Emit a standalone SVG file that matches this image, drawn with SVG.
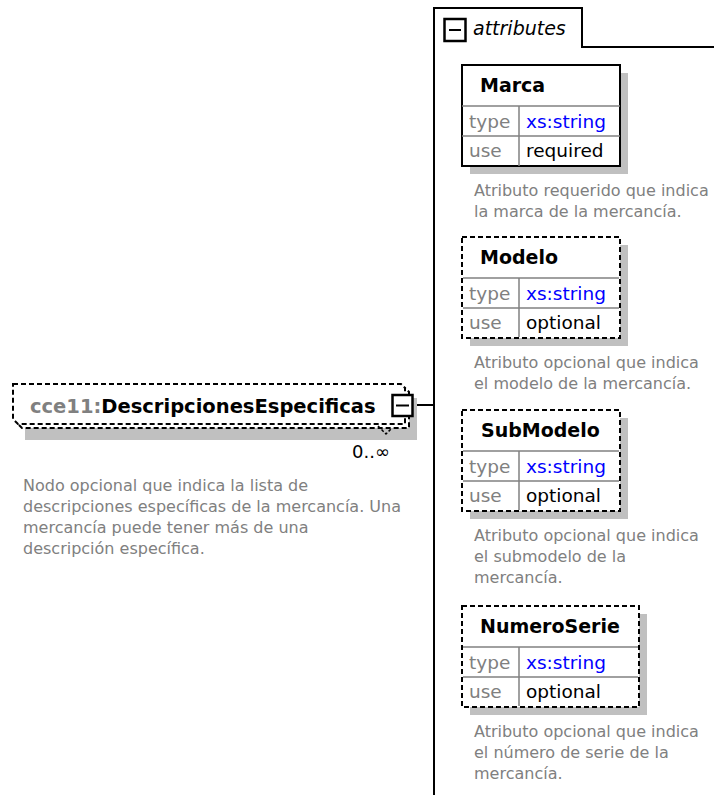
<svg xmlns="http://www.w3.org/2000/svg" width="714" height="795" viewBox="0 0 714 795">
<style>
  text { font-family: "DejaVu Sans", Verdana, sans-serif; }
  .bg { fill: #ffffff; }
  .shadow { fill: #c0c0c0; stroke: none; }
  .box { fill: #ffffff; stroke: #000; stroke-width: 2; }
  .dash { fill: #ffffff; stroke: #000; stroke-width: 2; stroke-dasharray: 5 3; }
  .grid { stroke: #808080; stroke-width: 1.5; fill: none; }
  .line { stroke: #000; stroke-width: 2; fill: none; }
  .title { font-size: 19px; font-weight: bold; fill: #000; }
  .lbl { font-size: 18.5px; fill: #808080; }
  .val { font-size: 18.5px; fill: #000; }
  .type { font-size: 18.5px; fill: #0000ff; }
  .desc { font-size: 16px; fill: #808080; }
  .btn { fill: #ffffff; stroke: #000; stroke-width: 2.5; }
</style>
<rect class="bg" x="0" y="0" width="714" height="795"/>

<g id="connectors">
  <line class="line" x1="413" y1="405" x2="434" y2="405"/>
</g>

<g id="attributes">
  <path class="line" d="M434,795 V8 H582 V47 H714"/>
  <rect class="btn" x="444.5" y="19" width="21" height="22"/>
  <line x1="449" y1="30" x2="461" y2="30" stroke="#000" stroke-width="2"/>
  <text x="473" y="35" font-size="19" font-style="italic" fill="#000">attributes</text>
</g>

<g id="DescripcionesEspecificas">
  <rect class="shadow" x="25" y="398" width="392" height="42"/>
  <polygon class="dash" points="17,388 405,388 409,392 409,428 22,428 17,423"/>
  <polygon class="dash" points="13,384 401,384 405,388 405,424 18,424 13,419"/>
  <polyline points="378,426 386,434 392,428" fill="none" stroke="#000" stroke-width="1.5" stroke-dasharray="3 2"/>
  <text x="30" y="413" font-size="19.5" font-weight="bold"><tspan fill="#808080">cce11:</tspan><tspan fill="#000">DescripcionesEspecificas</tspan></text>
  <rect class="btn" x="392.5" y="395" width="20" height="21"/>
  <line x1="396" y1="405.5" x2="409" y2="405.5" stroke="#000" stroke-width="2"/>
  <text x="352" y="458" font-size="18" fill="#000">0..∞</text>
  <text class="desc" x="23" y="491">Nodo opcional que indica la lista de</text>
  <text class="desc" x="23" y="512">descripciones específicas de la mercancía. Una</text>
  <text class="desc" x="23" y="533">mercancía puede tener más de una</text>
  <text class="desc" x="23" y="554">descripción específica.</text>
</g>

<g id="Marca">
  <rect class="shadow" x="470" y="73" width="158" height="101"/>
  <rect class="box" x="462" y="65" width="158" height="101"/>
  <line class="grid" x1="462" y1="106" x2="620" y2="106"/>
  <line class="grid" x1="462" y1="136" x2="620" y2="136"/>
  <line class="grid" x1="519" y1="106" x2="519" y2="166"/>
  <text class="title" x="480" y="92">Marca</text>
  <text class="lbl" x="469" y="128">type</text>
  <text class="type" x="526" y="128">xs:string</text>
  <text class="lbl" x="469" y="157">use</text>
  <text class="val" x="526" y="157">required</text>
  <text class="desc" x="474" y="196">Atributo requerido que indica</text>
  <text class="desc" x="474" y="217">la marca de la mercancía.</text>
</g>

<g id="Modelo">
  <rect class="shadow" x="470" y="245" width="158" height="101"/>
  <rect class="dash" x="462" y="237" width="158" height="101"/>
  <line class="grid" x1="463" y1="278" x2="619" y2="278"/>
  <line class="grid" x1="463" y1="308" x2="619" y2="308"/>
  <line class="grid" x1="519" y1="278" x2="519" y2="337"/>
  <text class="title" x="480" y="264">Modelo</text>
  <text class="lbl" x="469" y="300">type</text>
  <text class="type" x="526" y="300">xs:string</text>
  <text class="lbl" x="469" y="329">use</text>
  <text class="val" x="526" y="329">optional</text>
  <text class="desc" x="474" y="368">Atributo opcional que indica</text>
  <text class="desc" x="474" y="389">el modelo de la mercancía.</text>
</g>

<g id="SubModelo">
  <rect class="shadow" x="470" y="418" width="158" height="101"/>
  <rect class="dash" x="462" y="410" width="158" height="101"/>
  <line class="grid" x1="463" y1="451" x2="619" y2="451"/>
  <line class="grid" x1="463" y1="481" x2="619" y2="481"/>
  <line class="grid" x1="519" y1="451" x2="519" y2="510"/>
  <text class="title" x="481" y="437">SubModelo</text>
  <text class="lbl" x="469" y="473">type</text>
  <text class="type" x="526" y="473">xs:string</text>
  <text class="lbl" x="469" y="502">use</text>
  <text class="val" x="526" y="502">optional</text>
  <text class="desc" x="474" y="541">Atributo opcional que indica</text>
  <text class="desc" x="474" y="562">el submodelo de la</text>
  <text class="desc" x="474" y="583">mercancía.</text>
</g>

<g id="NumeroSerie">
  <rect class="shadow" x="470" y="614" width="177" height="101"/>
  <rect class="dash" x="462" y="606" width="177" height="101"/>
  <line class="grid" x1="463" y1="647" x2="638" y2="647"/>
  <line class="grid" x1="463" y1="677" x2="638" y2="677"/>
  <line class="grid" x1="519" y1="647" x2="519" y2="706"/>
  <text class="title" x="480" y="633">NumeroSerie</text>
  <text class="lbl" x="469" y="669">type</text>
  <text class="type" x="526" y="669">xs:string</text>
  <text class="lbl" x="469" y="698">use</text>
  <text class="val" x="526" y="698">optional</text>
  <text class="desc" x="474" y="737">Atributo opcional que indica</text>
  <text class="desc" x="474" y="758">el número de serie de la</text>
  <text class="desc" x="474" y="779">mercancía.</text>
</g>
</svg>
